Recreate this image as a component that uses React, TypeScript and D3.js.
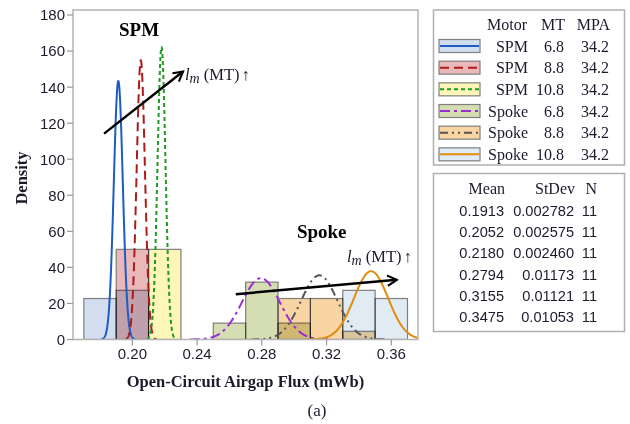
import React from 'react';
import * as d3 from 'd3';

// Series descriptors
const motors = ['SPM', 'SPM', 'SPM', 'Spoke', 'Spoke', 'Spoke'];
const mtLabels = ['6.8', '8.8', '10.8', '6.8', '8.8', '10.8'];
const mpaLabels = ['34.2', '34.2', '34.2', '34.2', '34.2', '34.2'];
const meanLabels = ['0.1913', '0.2052', '0.2180', '0.2794', '0.3155', '0.3475'];
const stdevLabels = ['0.002782', '0.002575', '0.002460', '0.01173', '0.01121', '0.01053'];
const nLabels = ['11', '11', '11', '11', '11', '11'];

// Histogram bins (width 0.02) and per-series counts
const binWidth = 0.02;
const binCenters = [0.18, 0.2, 0.22, 0.24, 0.26, 0.28, 0.3, 0.32, 0.34, 0.36];
const binCounts = [
  [5, 6, 0, 0, 0, 0, 0, 0, 0, 0],
  [0, 11, 0, 0, 0, 0, 0, 0, 0, 0],
  [0, 0, 11, 0, 0, 0, 0, 0, 0, 0],
  [0, 0, 0, 0, 2, 7, 2, 0, 0, 0],
  [0, 0, 0, 0, 0, 0, 5, 5, 1, 0],
  [0, 0, 0, 0, 0, 0, 0, 0, 6, 5],
];

const xTicks = [0.2, 0.24, 0.28, 0.32, 0.36];
const yTicks = [0, 20, 40, 60, 80, 100, 120, 140, 160, 180];

// Styling
const fills = ['#d2def0', '#eab8b8', '#fdf6b8', '#d5ddb3', '#f9d5a4', '#e0ebf4'];
const strokes = ['#1f5cc0', '#ad1a1a', '#1e9a1e', '#9a2fd1', '#555555', '#e08c10'];
const dashes = ['', '9,5', '4,3', '10,4,3,4', '8,4,2,4,2,4', ''];

const SERIF = '"Liberation Serif", "Times New Roman", serif';
const SANS = '"Liberation Sans", Arial, sans-serif';
const TEXT = '#1b1b2b';

const W = 630;
const H = 424;
const plot = { left: 73, right: 418, top: 10, bottom: 339.5 };

function normalPdf(x: number, m: number, s: number) {
  const z = (x - m) / s;
  return Math.exp(-0.5 * z * z) / (s * Math.sqrt(2 * Math.PI));
}

export default function App() {
  const x = d3.scaleLinear().domain([0.1633, 0.3765]).range([plot.left, plot.right]);
  const y = d3.scaleLinear().domain([0, 180]).range([plot.bottom, 15]);

  const means = meanLabels.map(Number);
  const sds = stdevLabels.map(Number);
  const ns = nLabels.map(Number);

  const line = d3
    .line<[number, number]>()
    .x((d) => x(d[0]))
    .y((d) => y(d[1]));

  const curves = means.map((m, i) => {
    const s = sds[i];
    const lo = Math.max(x.domain()[0], m - 3.75 * s);
    const hi = Math.min(x.domain()[1], m + 3.75 * s);
    const pts: [number, number][] = d3.range(0, 301).map((k) => {
      const v = lo + ((hi - lo) * k) / 300;
      return [v, normalPdf(v, m, s)];
    });
    return line(pts) || '';
  });

  // Annotation anchors in data units
  const spmArrow = [[0.1825, 114.2], [0.2313, 148.6]];
  const spokeArrow = [[0.2639, 25.1], [0.3634, 33.1]];

  const legendX = 433.5;
  const legendW = 191;
  const rowY = (i: number) => 46 + i * 21.67;
  const tableRowY = (i: number) => 215.7 + i * 21.3;

  const lmLabel = (px: number, py: number) => (
    <text x={px} y={py} fontFamily={SERIF} fontSize={16.5} fill={TEXT}>
      <tspan fontStyle="italic">l</tspan>
      <tspan fontStyle="italic" fontSize={14} dy={3}>m</tspan>
      <tspan dy={-3}> (MT)</tspan>
      <tspan dx={2}>↑</tspan>
    </text>
  );

  return (
    <svg
      width={W}
      height={H}
      style={{ position: 'absolute', left: 0, top: 0, background: '#fff' }}
    >
      <defs>
        <clipPath id="plotClip">
          <rect x={plot.left} y={plot.top} width={plot.right - plot.left} height={plot.bottom - plot.top} />
        </clipPath>
        <marker id="arrowHead" viewBox="0 0 12 12" refX="10" refY="6" markerWidth="5" markerHeight="5" orient="auto" markerUnits="strokeWidth">
          <path d="M1,1 L10,6 L1,11" fill="none" stroke="#000" strokeWidth="2" />
        </marker>
      </defs>

      <rect x={0} y={0} width={W} height={H} fill="#fff" />

      {/* histogram bars */}
      <g clipPath="url(#plotClip)">
        {binCounts.map((row, i) =>
          row.map((c, j) =>
            c > 0 ? (
              <rect
                key={`b${i}-${j}`}
                x={x(binCenters[j] - binWidth / 2)}
                y={y(c / (ns[i] * binWidth))}
                width={x(binCenters[j] + binWidth / 2) - x(binCenters[j] - binWidth / 2)}
                height={y(0) - y(c / (ns[i] * binWidth))}
                fill={fills[i]}
                stroke="#7f7f7f"
                strokeWidth={1.2}
                style={{ mixBlendMode: 'multiply' }}
              />
            ) : null
          )
        )}
      </g>

      {/* fitted normal curves */}
      <g clipPath="url(#plotClip)">
        {curves.map((d, i) => (
          <path
            key={`c${i}`}
            d={d}
            fill="none"
            stroke={strokes[i]}
            strokeWidth={2}
            strokeDasharray={dashes[i] || undefined}
          />
        ))}
      </g>

      {/* frame */}
      <rect
        x={plot.left}
        y={plot.top}
        width={plot.right - plot.left}
        height={plot.bottom - plot.top}
        fill="none"
        stroke="#b4b4b4"
        strokeWidth={1.5}
      />

      {/* y axis */}
      {yTicks.map((t) => (
        <g key={`yt${t}`}>
          <line x1={plot.left - 6} x2={plot.left} y1={y(t)} y2={y(t)} stroke="#9a9a9a" strokeWidth={1.2} />
          <text x={plot.left - 8} y={y(t)} dy="0.36em" textAnchor="end" fontFamily={SANS} fontSize={15} fill={TEXT}>
            {t}
          </text>
        </g>
      ))}
      {/* x axis */}
      {xTicks.map((t) => (
        <g key={`xt${t}`}>
          <line x1={x(t)} x2={x(t)} y1={plot.bottom} y2={plot.bottom + 6} stroke="#9a9a9a" strokeWidth={1.2} />
          <text x={x(t)} y={plot.bottom + 19.5} textAnchor="middle" fontFamily={SANS} fontSize={15} fill={TEXT}>
            {t.toFixed(2)}
          </text>
        </g>
      ))}

      <text x={245.5} y={387} textAnchor="middle" fontFamily={SERIF} fontWeight="bold" fontSize={16.5} fill={TEXT}>
        Open-Circuit Airgap Flux (mWb)
      </text>
      <text
        transform="translate(27,178) rotate(-90)"
        textAnchor="middle"
        fontFamily={SERIF}
        fontWeight="bold"
        fontSize={16.5}
        fill={TEXT}
      >
        Density
      </text>
      <text x={317} y={416} textAnchor="middle" fontFamily={SERIF} fontSize={17} fill={TEXT}>
        (a)
      </text>

      {/* annotations */}
      <text x={x(0.2041)} y={y(168.6)} textAnchor="middle" fontFamily={SERIF} fontWeight="bold" fontSize={19} fill="#000">
        SPM
      </text>
      <line
        x1={x(spmArrow[0][0])}
        y1={y(spmArrow[0][1])}
        x2={x(spmArrow[1][0])}
        y2={y(spmArrow[1][1])}
        stroke="#000"
        strokeWidth={2.5}
        markerEnd="url(#arrowHead)"
      />
      {lmLabel(185, 80)}

      <text x={321.7} y={238} textAnchor="middle" fontFamily={SERIF} fontWeight="bold" fontSize={19} fill="#000">
        Spoke
      </text>
      <line
        x1={x(spokeArrow[0][0])}
        y1={y(spokeArrow[0][1])}
        x2={x(spokeArrow[1][0])}
        y2={y(spokeArrow[1][1])}
        stroke="#000"
        strokeWidth={2.5}
        markerEnd="url(#arrowHead)"
      />
      {lmLabel(347, 262)}

      {/* legend */}
      <rect x={legendX} y={10} width={legendW} height={155} fill="#fff" stroke="#b0b0b0" strokeWidth={1.5} />
      <g fontFamily={SERIF} fontSize={16} fill={TEXT}>
        <text x={527} y={30} textAnchor="end">Motor</text>
        <text x={565} y={30} textAnchor="end">MT</text>
        <text x={610} y={30} textAnchor="end">MPA</text>
        {motors.map((m, i) => (
          <g key={`lg${i}`}>
            <rect x={439} y={rowY(i) - 6.5} width={41} height={13} fill={fills[i]} stroke="#7f7f7f" strokeWidth={1.2} />
            <line
              x1={440}
              x2={479}
              y1={rowY(i)}
              y2={rowY(i)}
              stroke={strokes[i]}
              strokeWidth={2}
              strokeDasharray={dashes[i] || undefined}
            />
            <text x={528} y={rowY(i) + 5.5} textAnchor="end">{m}</text>
            <text x={564} y={rowY(i) + 5.5} textAnchor="end">{mtLabels[i]}</text>
            <text x={609} y={rowY(i) + 5.5} textAnchor="end">{mpaLabels[i]}</text>
          </g>
        ))}
      </g>

      {/* statistics table */}
      <rect x={legendX} y={173.5} width={legendW} height={158} fill="#fff" stroke="#b0b0b0" strokeWidth={1.5} />
      <g fontFamily={SERIF} fontSize={16} fill={TEXT}>
        <text x={505} y={194} textAnchor="end">Mean</text>
        <text x={575} y={194} textAnchor="end">StDev</text>
        <text x={597} y={194} textAnchor="end">N</text>
      </g>
      <g fontFamily={SANS} fontSize={14.6} fill={TEXT}>
        {meanLabels.map((m, i) => (
          <g key={`tb${i}`}>
            <text x={504} y={tableRowY(i)} textAnchor="end">{m}</text>
            <text x={574} y={tableRowY(i)} textAnchor="end">{stdevLabels[i]}</text>
            <text x={597} y={tableRowY(i)} textAnchor="end">{nLabels[i]}</text>
          </g>
        ))}
      </g>
    </svg>
  );
}
